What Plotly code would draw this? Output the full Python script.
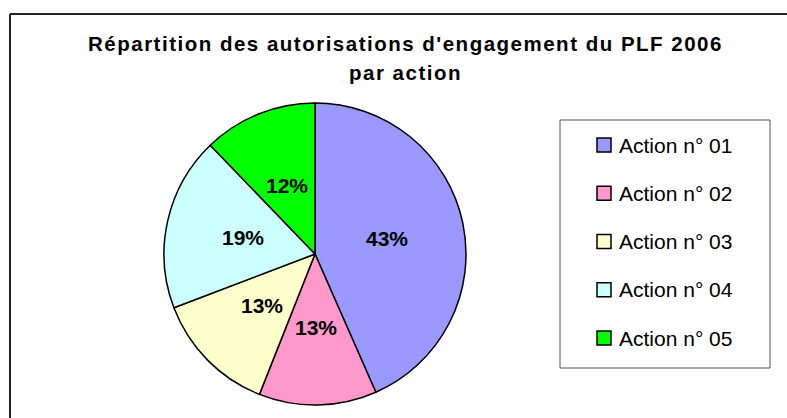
import math
import plotly.graph_objects as go

# ---- data ----
labels = ["Action n° 01", "Action n° 02", "Action n° 03", "Action n° 04", "Action n° 05"]
values = [43.4, 12.6, 13.2, 18.6, 12.2]
colors = ["#9999FF", "#FF99CC", "#FFFFCC", "#CCFFFF", "#00FF00"]
title_line1 = "Répartition des autorisations d'engagement du PLF 2006"
title_line2 = "par action"

W, H = 787, 418
FONT = "Liberation Sans, Arial, sans-serif"


def px(x):
    return x / W


def py(y):
    return 1 - y / H


# pie geometry (pixels)
cx, cy, r = 315, 254, 151

fig = go.Figure()
fig.add_trace(go.Pie(
    labels=labels,
    values=values,
    marker=dict(colors=colors, line=dict(color="black", width=1.5)),
    sort=False,
    direction="clockwise",
    rotation=0,
    textinfo="none",
    hoverinfo="label+percent",
    showlegend=False,
    domain=dict(x=[px(cx - r), px(cx + r)], y=[py(cy + r), py(cy - r)]),
))

annotations = []
shapes = []

# percentage labels placed along slice bisectors
total = sum(values)
cum = 0.0
for v in values:
    mid = (cum + v / 2) / total
    th = 2 * math.pi * mid
    lx = cx + 0.49 * r * math.sin(th)
    ly = cy - 0.49 * r * math.cos(th)
    annotations.append(dict(
        x=px(lx), y=py(ly), xref="paper", yref="paper",
        text=f"<b>{round(v / total * 100)}%</b>", showarrow=False,
        xanchor="center", yanchor="middle",
        font=dict(family=FONT, size=21, color="black"),
    ))
    cum += v

# title
annotations.append(dict(
    x=px(405), y=py(43), xref="paper", yref="paper",
    text=f"<b><span style='letter-spacing:1.5px'>{title_line1}</span></b>",
    showarrow=False, xanchor="center", yanchor="middle",
    font=dict(family=FONT, size=20.5, color="black"),
))
annotations.append(dict(
    x=px(405), y=py(72), xref="paper", yref="paper",
    text=f"<b><span style='letter-spacing:1.5px'>{title_line2}</span></b>",
    showarrow=False, xanchor="center", yanchor="middle",
    font=dict(family=FONT, size=20.5, color="black"),
))

# outer chart border (top and left visible)
shapes.append(dict(type="line", xref="paper", yref="paper",
                   x0=px(10), y0=py(14), x1=1, y1=py(14),
                   line=dict(color="#222222", width=2)))
shapes.append(dict(type="line", xref="paper", yref="paper",
                   x0=px(10), y0=py(14), x1=px(10), y1=0,
                   line=dict(color="#222222", width=2)))

# legend box
shapes.append(dict(type="rect", xref="paper", yref="paper",
                   x0=px(560), y0=py(368), x1=px(770), y1=py(120),
                   line=dict(color="#555555", width=1), fillcolor="white"))

for i, (lab, col) in enumerate(zip(labels, colors)):
    yc = 145 + 48.25 * i
    shapes.append(dict(type="rect", xref="paper", yref="paper",
                       x0=px(597), y0=py(yc + 7), x1=px(611), y1=py(yc - 7),
                       line=dict(color="black", width=1.5), fillcolor=col))
    annotations.append(dict(
        x=px(617), y=py(yc), xref="paper", yref="paper",
        text=lab, showarrow=False, xanchor="left", yanchor="middle",
        font=dict(family=FONT, size=21, color="black"),
    ))

fig.update_layout(
    width=W, height=H,
    margin=dict(l=0, r=0, t=0, b=0),
    paper_bgcolor="white", plot_bgcolor="white",
    annotations=annotations, shapes=shapes,
    showlegend=False,
)

fig.write_html(
    "out.html",
    config={"displayModeBar": False},
    post_script="document.body.style.margin='0';document.body.style.overflow='hidden';",
)
